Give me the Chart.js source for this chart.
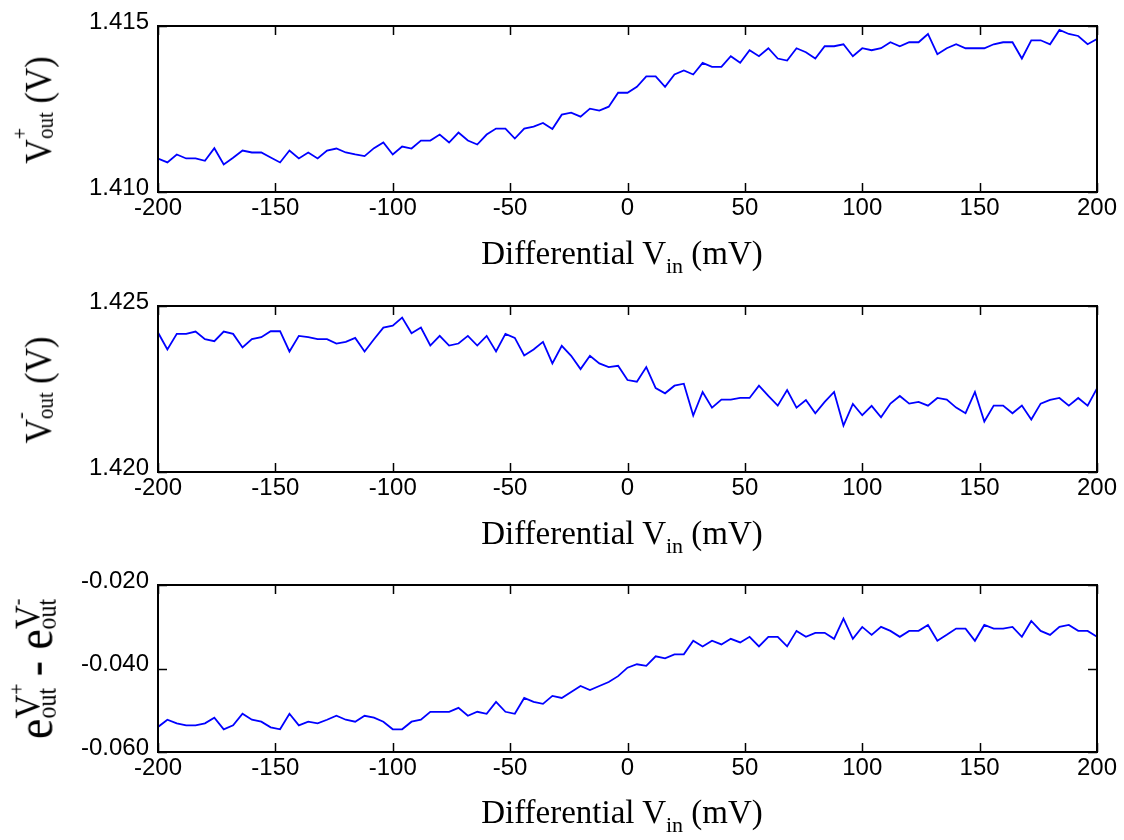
<!DOCTYPE html>
<html>
<head>
<meta charset="utf-8">
<title>Differential Vin response</title>
<script src="https://cdn.jsdelivr.net/npm/chart.js@4.4.1/dist/chart.umd.min.js"></script>
<style>
  body { margin: 0; background: #fff; }
  #wrap { position: relative; width: 1124px; height: 840px; overflow: hidden; }
  .panel { position: absolute; left: 0; width: 1124px; height: 280px; }
  .panel canvas { position: absolute; left: 0; top: 0; }
  .xlab {
    position: absolute; left: 622px; top: 237px; transform: translateX(-50%);
    font-family: "Liberation Serif", "Times New Roman", serif; font-size: 33px; line-height: 33px;
    white-space: nowrap; color: #000;
  }
  .xlab .sb { font-size: 22px; position: relative; top: 9px; }
  .ylab {
    position: absolute; transform: translate(-50%, -50%) rotate(-90deg) scaleY(1.1);
    font-family: "Liberation Serif", "Times New Roman", serif; font-size: 34px; line-height: 34px;
    white-space: nowrap; color: #000;
  }
  .ylab .sp { font-size: 20px; position: relative; top: -22px; }
  .ylab .sb { font-size: 21px; position: relative; top: 2px; }
  .ylab.big { font-size: 46px; line-height: 46px; }
  .ylab .v3 { font-size: 33px; position: relative; top: -11px; }
  .ylab .sp3 { font-size: 20px; position: relative; top: -15px; }
  .ylab .o3 { font-size: 24px; position: relative; top: 3px; }
</style>
</head>
<body>
<div id="wrap">
  <div class="panel" style="top:0px">
    <canvas id="chartPlus" width="1124" height="280"></canvas>
    <div class="xlab">Differential V<span class="sb">in</span> (mV)</div>
    <div class="ylab" style="left:41px; top:110px">V<span class="sp">+</span><span class="sb" style="margin-left:-11px">out</span> (V)</div>
  </div>
  <div class="panel" style="top:280px">
    <canvas id="chartMinus" width="1124" height="280"></canvas>
    <div class="xlab">Differential V<span class="sb">in</span> (mV)</div>
    <div class="ylab" style="left:41px; top:110px">V<span class="sp">-</span><span class="sb" style="margin-left:-7px">out</span> (V)</div>
  </div>
  <div class="panel" style="top:559px">
    <canvas id="chartDiff" width="1124" height="280"></canvas>
    <div class="xlab">Differential V<span class="sb">in</span> (mV)</div>
    <div class="ylab big" style="left:40px; top:110px">e<span class="v3">V<span class="sp3">+</span></span><span class="o3" style="margin-left:-35px">out</span> - e<span class="v3">V<span class="sp3">-</span></span><span class="o3" style="margin-left:-31px">out</span></div>
  </div>
</div>

<script>
// ========== DATA ==========
const xValues = [
  -200, -196, -192, -188, -184, -180, -176, -172, -168, -164,
  -160, -156, -152, -148, -144, -140, -136, -132, -128, -124,
  -120, -116, -112, -108, -104, -100, -96, -92, -88, -84,
  -80, -76, -72, -68, -64, -60, -56, -52, -48, -44,
  -40, -36, -32, -28, -24, -20, -16, -12, -8, -4,
  0, 4, 8, 12, 16, 20, 24, 28, 32, 36,
  40, 44, 48, 52, 56, 60, 64, 68, 72, 76,
  80, 84, 88, 92, 96, 100, 104, 108, 112, 116,
  120, 124, 128, 132, 136, 140, 144, 148, 152, 156,
  160, 164, 168, 172, 176, 180, 184, 188, 192, 196,
  200
];

// V+out (V)
const vPlus = [
  1.41101, 1.41089, 1.41113, 1.41101, 1.41101, 1.41094, 1.41132, 1.41083, 1.41103, 1.41125,
  1.41119, 1.41119, 1.41104, 1.41089, 1.41125, 1.41101, 1.41119, 1.41101, 1.41125, 1.41131,
  1.41119, 1.41113, 1.41108, 1.41132, 1.41149, 1.41113, 1.41137, 1.41131, 1.41155, 1.41155,
  1.41173, 1.41149, 1.41179, 1.41155, 1.41143, 1.41173, 1.41191, 1.41191, 1.41161, 1.41191,
  1.41197, 1.41208, 1.41190, 1.41233, 1.41239, 1.41227, 1.41251, 1.41245, 1.41257, 1.41299,
  1.41299, 1.41317, 1.41348, 1.41348, 1.41317, 1.41354, 1.41366, 1.41354, 1.41389, 1.41377,
  1.41377, 1.41409, 1.41389, 1.41427, 1.41409, 1.41433, 1.41402, 1.41396, 1.41433, 1.41421,
  1.41402, 1.41439, 1.41439, 1.41445, 1.41409, 1.41433, 1.41427, 1.41433, 1.41451, 1.41439,
  1.41451, 1.41451, 1.41476, 1.41415, 1.41433, 1.41445, 1.41433, 1.41433, 1.41433, 1.41445,
  1.41451, 1.41451, 1.41402, 1.41457, 1.41457, 1.41445, 1.41488, 1.41476, 1.41470, 1.41445,
  1.41461
];

// V-out (V)
const vMinus = [
  1.42420, 1.42369, 1.42416, 1.42416, 1.42423, 1.42400, 1.42394, 1.42423, 1.42416, 1.42375,
  1.42400, 1.42406, 1.42424, 1.42424, 1.42363, 1.42410, 1.42406, 1.42400, 1.42400, 1.42387,
  1.42392, 1.42404, 1.42363, 1.42400, 1.42435, 1.42441, 1.42465, 1.42418, 1.42435, 1.42381,
  1.42410, 1.42381, 1.42387, 1.42410, 1.42381, 1.42410, 1.42363, 1.42416, 1.42404, 1.42351,
  1.42369, 1.42392, 1.42327, 1.42380, 1.42350, 1.42310, 1.42350, 1.42327, 1.42316, 1.42320,
  1.42277, 1.42272, 1.42316, 1.42253, 1.42237, 1.42260, 1.42266, 1.42170, 1.42241, 1.42194,
  1.42218, 1.42218, 1.42223, 1.42223, 1.42260, 1.42229, 1.42200, 1.42247, 1.42194, 1.42217,
  1.42177, 1.42211, 1.42241, 1.42140, 1.42205, 1.42171, 1.42199, 1.42165, 1.42206, 1.42229,
  1.42206, 1.42211, 1.42200, 1.42223, 1.42218, 1.42194, 1.42177, 1.42241, 1.42152, 1.42200,
  1.42200, 1.42177, 1.42200, 1.42158, 1.42206, 1.42217, 1.42223, 1.42200, 1.42223, 1.42200,
  1.42252
];

// e^V+out - e^V-out
const eDiff = [
  -0.05400, -0.05227, -0.05314, -0.05362, -0.05362, -0.05314, -0.05179, -0.05456, -0.05362, -0.05084,
  -0.05227, -0.05274, -0.05409, -0.05456, -0.05084, -0.05362, -0.05274, -0.05314, -0.05227, -0.05132,
  -0.05227, -0.05274, -0.05132, -0.05179, -0.05274, -0.05456, -0.05456, -0.05274, -0.05227, -0.05037,
  -0.05037, -0.05037, -0.04942, -0.05132, -0.05037, -0.05084, -0.04800, -0.05037, -0.05084, -0.04705,
  -0.04800, -0.04847, -0.04657, -0.04705, -0.04562, -0.04420, -0.04515, -0.04420, -0.04325, -0.04183,
  -0.03980, -0.03898, -0.03937, -0.03708, -0.03756, -0.03661, -0.03661, -0.03336, -0.03471, -0.03336,
  -0.03423, -0.03289, -0.03376, -0.03241, -0.03471, -0.03241, -0.03241, -0.03471, -0.03099, -0.03241,
  -0.03146, -0.03146, -0.03289, -0.02807, -0.03289, -0.03004, -0.03194, -0.03004, -0.03099, -0.03241,
  -0.03099, -0.03099, -0.02957, -0.03336, -0.03194, -0.03044, -0.03044, -0.03336, -0.02957, -0.03044,
  -0.03044, -0.03004, -0.03241, -0.02862, -0.03099, -0.03194, -0.03004, -0.02957, -0.03099, -0.03099,
  -0.03241
];

const xTicks = [-200, -150, -100, -50, 0, 50, 100, 150, 200];
const yTicksPlus = [1.410, 1.415];
const yTicksMinus = [1.420, 1.425];
const yTicksDiff = [-0.060, -0.040, -0.020];

// ========== PANEL BUILDER ==========
const TICK_FONT = { family: "'Liberation Sans', Arial, sans-serif", size: 24 };

function makePanel(canvasId, series, yTicks, areaTop, areaBottom) {
  const canvas = document.getElementById(canvasId);
  const H = canvas.height;

  // frame box + inward tick marks (MATLAB style)
  const frameTicks = {
    id: "frameTicks",
    afterDraw(chart) {
      const { ctx, chartArea: a, scales } = chart;
      ctx.save();
      ctx.strokeStyle = "#000";
      ctx.lineWidth = 1.5;
      ctx.beginPath();
      xTicks.forEach((v) => {
        const px = Math.round(scales.x.getPixelForValue(v)) + 0.5;
        ctx.moveTo(px, a.bottom); ctx.lineTo(px, a.bottom - 9);
        ctx.moveTo(px, a.top); ctx.lineTo(px, a.top + 9);
      });
      yTicks.forEach((v) => {
        const py = Math.round(scales.y.getPixelForValue(v)) + 0.5;
        ctx.moveTo(a.left, py); ctx.lineTo(a.left + 9, py);
        ctx.moveTo(a.right, py); ctx.lineTo(a.right - 9, py);
      });
      ctx.stroke();
      ctx.lineWidth = 2;
      ctx.strokeRect(a.left, a.top, a.right - a.left, a.bottom - a.top);
      ctx.restore();
    }
  };

  return new Chart(canvas, {
    type: "line",
    data: {
      datasets: [{
        data: xValues.map((x, i) => ({ x: x, y: series[i] })),
        borderColor: "#0000ff",
        borderWidth: 1.8,
        pointRadius: 0,
        tension: 0,
        fill: false
      }]
    },
    options: {
      responsive: false,
      animation: false,
      devicePixelRatio: 1,
      layout: { autoPadding: false, padding: { top: areaTop, right: 27, bottom: 0, left: 0 } },
      plugins: { legend: { display: false }, tooltip: { enabled: false } },
      scales: {
        x: {
          type: "linear",
          min: -200, max: 200,
          afterBuildTicks: (s) => { s.ticks = xTicks.map((v) => ({ value: v })); },
          afterFit: (s) => { s.height = H - areaBottom; },
          grid: { display: false, drawTicks: false },
          border: { display: false },
          ticks: { font: TICK_FONT, color: "#000", padding: 2, maxRotation: 0, autoSkip: false }
        },
        y: {
          type: "linear",
          min: yTicks[0], max: yTicks[yTicks.length - 1],
          afterBuildTicks: (s) => { s.ticks = yTicks.map((v) => ({ value: v })); },
          afterFit: (s) => { s.width = 158; },
          grid: { display: false, drawTicks: false },
          border: { display: false },
          ticks: {
            font: TICK_FONT, color: "#000", padding: 9, labelOffset: -4,
            callback: (v) => Number(v).toFixed(3)
          }
        }
      }
    },
    plugins: [frameTicks]
  });
}

// ========== ON LOAD ==========
document.addEventListener("DOMContentLoaded", () => {
  makePanel("chartPlus", vPlus, yTicksPlus, 26, 192);
  makePanel("chartMinus", vMinus, yTicksMinus, 26, 192);
  makePanel("chartDiff", eDiff, yTicksDiff, 26, 193);
});
</script>
</body>
</html>
